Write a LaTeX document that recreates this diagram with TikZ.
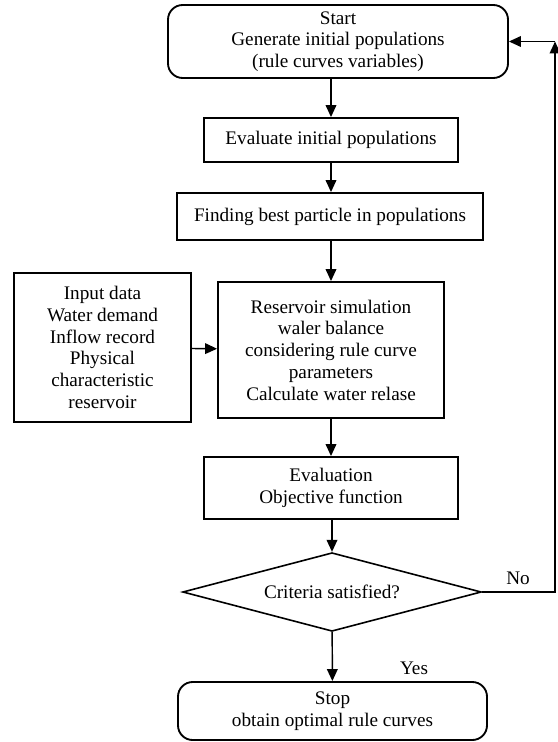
\documentclass[tikz,border=0pt]{standalone}
\usepackage{fontspec}
\setmainfont{Liberation Serif}
\usepackage{tikz}
\usetikzlibrary{shapes.geometric,arrows.meta}

\begin{document}
\begin{tikzpicture}[x=0.75pt,y=-0.75pt,
  font=\fontsize{14.4}{16.3}\selectfont,
  box/.style={draw,line width=1.4pt,align=center,inner sep=2pt},
  endbox/.style={box,rounded corners=11pt},
  crit/.style={draw,line width=1.2pt,diamond,aspect=3.8,inner sep=0pt,minimum width=224pt,minimum height=59pt},
  arr/.style={line width=1.1pt,-{Triangle[length=9pt,width=8pt]}}]
\useasboundingbox (0,0) rectangle (557,742);
\node[endbox,minimum width=255pt,minimum height=54.75pt] (start) at (338,41.5) {Start\\Generate initial populations\\(rule curves variables)};
\node[box,minimum width=190.5pt,minimum height=33pt] (eval) at (331,140) {Evaluate initial populations};
\node[box,minimum width=229.5pt,minimum height=35.25pt] (best) at (330,216.5) {Finding best particle in populations};
\node[box,minimum width=169.5pt,minimum height=102pt] (sim) at (331,350) {Reservoir simulation\\waler balance\\considering rule curve\\parameters\\Calculate water relase};
\node[box,minimum width=132.75pt,minimum height=111.75pt] (input) at (102.5,347.5) {Input data\\Water demand\\Inflow record\\Physical\\characteristic\\reservoir};
\node[box,minimum width=190.5pt,minimum height=46.5pt] (obj) at (331,488) {Evaluation\\Objective function};
\node[crit] (test) at (332,592) {Criteria satisfied?};
\node[endbox,minimum width=231.75pt,minimum height=43.5pt] (stop) at (332.5,711) {Stop\\obtain optimal rule curves};
\coordinate (corner) at (555,41.5);
\draw[arr] (start.south -| eval) -- (eval);
\draw[arr] (eval.south -| sim) -- (best.north -| sim);
\draw[arr] (best.south -| sim) -- (sim);
\draw[arr] (input) -- (sim);
\draw[arr] (sim) -- (obj);
\draw[arr] (obj.south -| test) -- (test);
\draw[arr] (test) -- (stop);
\draw[arr] (test.east) -| (corner);
\draw[arr] (corner) -- (start);
\node (no) at (518,578) {No};
\node (yes) at (414,668) {Yes};
\end{tikzpicture}
\end{document}
